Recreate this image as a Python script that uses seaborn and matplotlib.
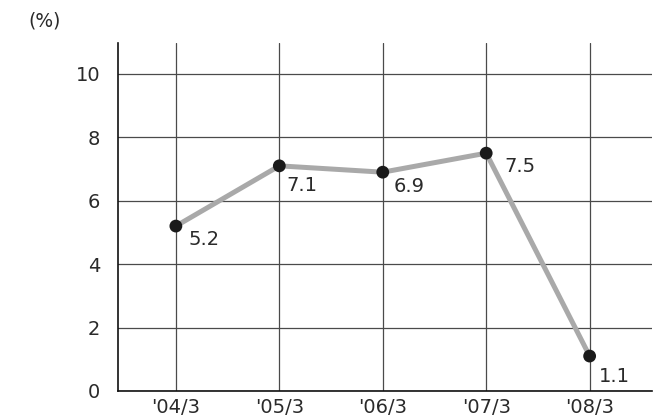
import pandas as pd
import matplotlib.pyplot as plt
import seaborn as sns

# Chart data
periods = ["'04/3", "'05/3", "'06/3", "'07/3", "'08/3"]
rates = [5.2, 7.1, 6.9, 7.5, 1.1]
y_ticks = [0, 2, 4, 6, 8, 10]

# label nudges (points) so the numbers sit like in the original
label_offsets = [(9, -10), (5, -14.5), (8, -10), (13, -9.5), (6.5, -14.5)]


def build_frame():
    return pd.DataFrame({'period': periods, 'pos': range(len(periods)), 'rate': rates})


def draw(df):
    sns.set_style('white')
    plt.rcParams['font.family'] = ['DejaVu Sans']

    fig = plt.figure(figsize=(6.65, 4.19), dpi=100)
    ax = fig.add_axes([0.178, 0.067, 0.802, 0.830])

    sns.lineplot(data=df, x='pos', y='rate', color='#a9a9a9', linewidth=3.6,
                 ax=ax, zorder=3)
    sns.scatterplot(data=df, x='pos', y='rate', color='#1a1a1a', s=85,
                    edgecolor='none', ax=ax, zorder=4)

    for (_, row), off in zip(df.iterrows(), label_offsets):
        ax.annotate(f"{row['rate']:.1f}", (row['pos'], row['rate']),
                    xytext=off, textcoords='offset points',
                    ha='left', va='center', fontsize=14, color='#2a2a2a')

    ax.set_xlim(-0.556, 4.6)
    ax.set_ylim(0, 10.97)
    ax.set_xticks(df['pos'])
    ax.set_xticklabels(df['period'])
    ax.set_yticks(y_ticks)
    ax.tick_params(axis='both', length=0, labelsize=14, colors='#2a2a2a')
    ax.tick_params(axis='y', pad=13)
    ax.tick_params(axis='x', pad=5)
    ax.set_xlabel('')
    ax.set_ylabel('')

    ax.grid(True, color='#4a4a4a', linewidth=0.9)
    ax.set_axisbelow(True)
    for side in ['top', 'right']:
        ax.spines[side].set_visible(False)
    for side in ['left', 'bottom']:
        ax.spines[side].set_color('#111111')
        ax.spines[side].set_linewidth(1.2)

    fig.text(0.042, 0.95, '(%)', fontsize=13.5, color='#2a2a2a', va='center')

    fig.savefig('out.png', dpi=100)


if __name__ == '__main__':
    draw(build_frame())
